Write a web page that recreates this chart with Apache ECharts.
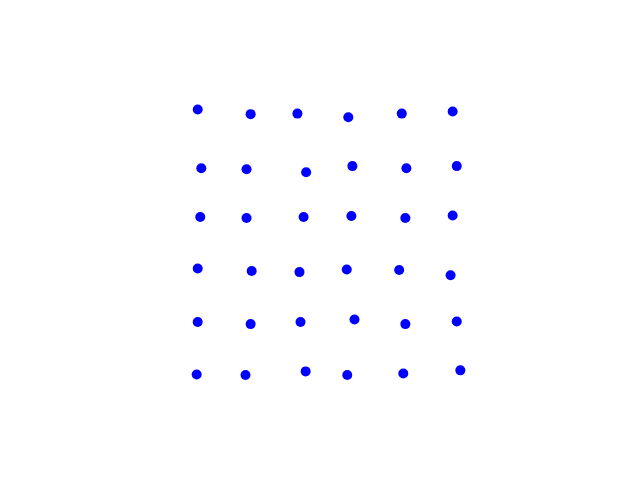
<!DOCTYPE html>
<html>
<head>
<meta charset="utf-8">
<script src="https://cdn.jsdelivr.net/npm/echarts@6/dist/echarts.min.js"></script>
<style>html,body{margin:0;padding:0;background:#fff}#c{width:640px;height:480px}</style>
</head>
<body>
<div id="c"></div>
<script>
const xValues = [
  -0.01, 1.02, 1.93, 2.92, 3.96, 4.95,
  0.06, 0.94, 2.10, 3.00, 4.05, 5.03,
  0.04, 0.94, 2.05, 2.98, 4.03, 4.95,
  -0.01, 1.04, 1.97, 2.89, 3.91, 4.91,
  -0.01, 1.02, 1.99, 3.04, 4.03, 5.03,
  -0.03, 0.92, 2.09, 2.90, 3.99, 5.10
];
const yValues = [
  5.07, 4.98, 4.99, 4.92, 4.99, 5.03,
  3.94, 3.92, 3.86, 3.98, 3.94, 3.98,
  3.00, 2.98, 3.00, 3.02, 2.98, 3.03,
  2.01, 1.96, 1.94, 1.99, 1.98, 1.88,
  0.98, 0.94, 0.98, 1.03, 0.94, 0.99,
  -0.03, -0.04, 0.03, -0.04, -0.01, 0.05
];
const points = xValues.map((x, i) => [x, yValues[i]]);
const chart = echarts.init(document.getElementById('c'), null, {renderer: 'canvas'});
chart.setOption({
  animation: false,
  backgroundColor: '#ffffff',
  grid: {left: 80, top: 58, width: 496, height: 369, containLabel: false},
  xAxis: {type: 'value', min: -2.3, max: 7.35, show: false},
  yAxis: {type: 'value', min: -1.04, max: 6.06, show: false},
  series: [{
    type: 'scatter',
    data: points,
    symbol: 'circle',
    symbolSize: 10,
    itemStyle: {color: '#0000ff', opacity: 1}
  }]
});
</script>
</body>
</html>
